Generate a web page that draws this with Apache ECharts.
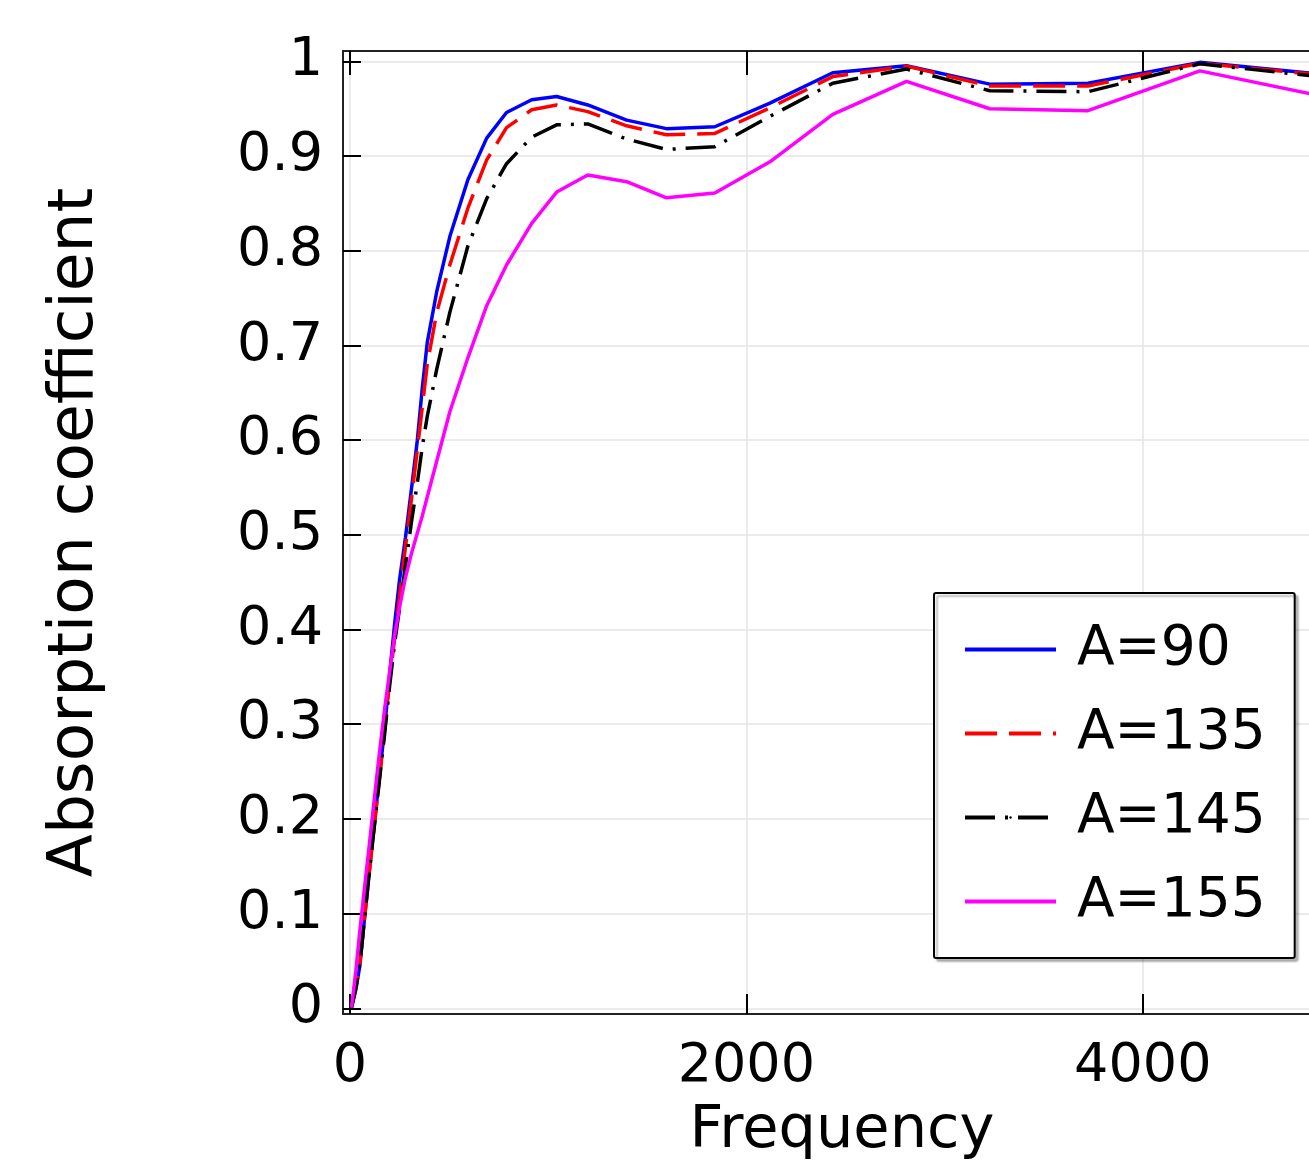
<!DOCTYPE html>
<html>
<head>
<meta charset="utf-8">
<script src="https://cdn.jsdelivr.net/npm/echarts@6/dist/echarts.min.js"></script>
<style>
html,body{margin:0;padding:0;background:#fff;}
#c{width:1309px;height:1164px;}
</style>
</head>
<body>
<div id="c"></div>
<script>
const freq = [8, 30, 50, 75, 100, 125, 150, 175, 200, 225, 250, 280, 310, 340, 365, 390, 438, 504, 595, 690, 790, 917, 1043, 1200, 1396, 1597, 1841, 2119, 2436, 2808, 3228, 3723, 4288, 4931];
const a90  = [0.001, 0.02, 0.045, 0.098, 0.15, 0.198, 0.247, 0.296, 0.352, 0.405, 0.452, 0.497, 0.548, 0.6, 0.655, 0.703, 0.757, 0.815, 0.875, 0.919, 0.946, 0.9595, 0.963, 0.954, 0.938, 0.929, 0.931, 0.956, 0.988, 0.9955, 0.976, 0.977, 0.999, 0.986];
const a135 = [0.001, 0.022, 0.047, 0.098, 0.148, 0.197, 0.245, 0.293, 0.345, 0.39, 0.435, 0.487, 0.537, 0.59, 0.635, 0.68, 0.735, 0.785, 0.845, 0.896, 0.93, 0.949, 0.954, 0.947, 0.932, 0.9225, 0.924, 0.951, 0.984, 0.995, 0.974, 0.974, 0.998, 0.985];
const a145 = [0.001, 0.022, 0.047, 0.098, 0.148, 0.196, 0.243, 0.29, 0.34, 0.385, 0.422, 0.467, 0.513, 0.555, 0.593, 0.625, 0.675, 0.735, 0.805, 0.855, 0.892, 0.92, 0.933, 0.934, 0.918, 0.907, 0.91, 0.942, 0.977, 0.992, 0.969, 0.968, 0.9975, 0.983];
const a155 = [0.001, 0.04, 0.082, 0.13, 0.177, 0.225, 0.272, 0.316, 0.355, 0.393, 0.423, 0.455, 0.48, 0.502, 0.52, 0.54, 0.578, 0.63, 0.687, 0.742, 0.785, 0.829, 0.862, 0.88, 0.873, 0.856, 0.861, 0.894, 0.944, 0.979, 0.95, 0.948, 0.99, 0.962];
const seriesNames = ['A=90', 'A=135', 'A=145', 'A=155'];
const xTicks = [0, 2000, 4000];
const yTicks = [0, 0.1, 0.2, 0.3, 0.4, 0.5, 0.6, 0.7, 0.8, 0.9, 1];

const FONT = 'DejaVu Sans';
const pair = arr => freq.map((f, i) => [f, arr[i]]);
const chart = echarts.init(document.getElementById('c'), null, {renderer: 'canvas'});
const frame = {show: true, onZero: false, lineStyle: {color: '#222', width: 2}};
const splitL = {show: true, lineStyle: {color: '#e4e4e4', width: 1.5}};
chart.setOption({
  animation: false,
  backgroundColor: '#fff',
  grid: {left: 343, top: 51, width: 998, height: 963, containLabel: false, outerBoundsMode: 'none'},
  xAxis: [{
    type: 'value', min: -35, max: 5000, position: 'bottom',
    name: 'Frequency', nameLocation: 'middle', nameGap: 88,
    nameTextStyle: {fontFamily: FONT, fontSize: 59, color: '#000'},
    axisLine: frame,
    axisTick: {show: true, inside: true, length: 20, customValues: xTicks, lineStyle: {color: '#000', width: 2}},
    axisLabel: {show: true, customValues: xTicks, margin: 26, fontFamily: FONT, fontSize: 54, color: '#000',
      formatter: v => String(Math.round(v))},
    splitLine: splitL
  }, {
    type: 'value', min: -35, max: 5000, position: 'top',
    axisLine: frame,
    axisTick: {show: true, inside: true, length: 24, customValues: xTicks, lineStyle: {color: '#000', width: 2}},
    axisLabel: {show: false},
    splitLine: {show: false}
  }],
  yAxis: [{
    type: 'value', min: -0.006, max: 1.011, position: 'left',
    name: 'Absorption coefficient', nameLocation: 'middle', nameGap: 236, nameRotate: 90,
    nameTextStyle: {fontFamily: FONT, fontSize: 63, color: '#000'},
    axisLine: frame,
    axisTick: {show: true, inside: true, length: 18, customValues: yTicks, lineStyle: {color: '#000', width: 2}},
    axisLabel: {show: true, customValues: yTicks, margin: 20, fontFamily: FONT, fontSize: 54, color: '#000',
      formatter: v => String(Math.round(v * 10) / 10)},
    splitLine: splitL
  }, {
    type: 'value', min: -0.006, max: 1.011, position: 'right',
    axisLine: frame,
    axisTick: {show: true, inside: true, length: 18, customValues: yTicks, lineStyle: {color: '#000', width: 2}},
    axisLabel: {show: false},
    splitLine: {show: false}
  }],
  legend: {
    show: true, orient: 'vertical', left: 934, top: 593,
    data: seriesNames,
    itemWidth: 91, itemHeight: 3, itemGap: 29,
    padding: 29,
    lineStyle: {width: 4},
    backgroundColor: '#fff', borderColor: '#000', borderWidth: 2, borderRadius: 2,
    shadowColor: 'rgba(0,0,0,0.25)', shadowBlur: 2, shadowOffsetX: 3, shadowOffsetY: 3,
    textStyle: {fontFamily: FONT, fontSize: 55, lineHeight: 55, color: '#000', padding: [0, 0, 0, 16]}
  },
  series: [
    {name: seriesNames[0], type: 'line', data: pair(a90), symbol: 'none', showSymbol: false,
     lineStyle: {color: '#0000ff', width: 3.5, type: 'solid'}, itemStyle: {color: '#0000ff'}, z: 2},
    {name: seriesNames[1], type: 'line', data: pair(a135), symbol: 'none', showSymbol: false,
     lineStyle: {color: '#ff0000', width: 3.5, type: [32, 12]}, itemStyle: {color: '#ff0000'}, z: 3},
    {name: seriesNames[2], type: 'line', data: pair(a145), symbol: 'none', showSymbol: false,
     lineStyle: {color: '#000000', width: 3.5, type: [30, 10, 3, 10]}, itemStyle: {color: '#000000'}, z: 4},
    {name: seriesNames[3], type: 'line', data: pair(a155), symbol: 'none', showSymbol: false,
     lineStyle: {color: '#ff00ff', width: 3.5, type: 'solid'}, itemStyle: {color: '#ff00ff'}, z: 5}
  ]
});
</script>
</body>
</html>
